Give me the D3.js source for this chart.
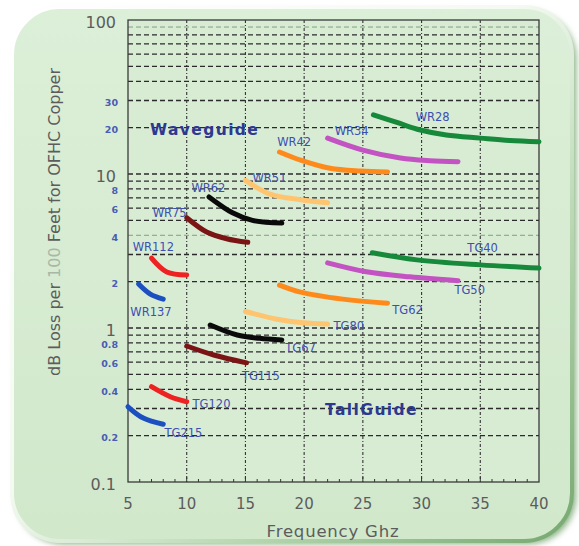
<!DOCTYPE html>
<html>
<head>
<meta charset="utf-8">
<script src="https://cdn.jsdelivr.net/npm/d3@7"></script>
<style>
  body { margin: 0; background: #fff; }
  svg { display: block; }
</style>
</head>
<body>
<div id="chart"></div>
<script>
// series (frequency GHz, dB loss / 100 ft)
const names = ["WR28", "WR34", "WR42", "WR51", "WR62", "WR75", "WR112", "WR137",
  "TG40", "TG50", "TG62", "TG80", "TG67", "TG115", "TG120", "TG215"]
const freqs = [
  [25.9, 27.9, 29.9, 32.1, 35.0, 37.5, 40.0],
  [22.0, 25.0, 28.2, 30.7, 33.1],
  [17.9, 19.7, 22.2, 24.8, 27.1],
  [15.0, 17.1, 19.7, 22.0],
  [11.9, 13.9, 15.6, 18.1],
  [10.0, 11.7, 13.4, 15.2],
  [7.0, 8.3, 10.0],
  [5.9, 6.9, 8.0],
  [25.8, 29.6, 35.0, 40.0],
  [22.0, 25.3, 29.0, 33.1],
  [17.9, 19.7, 23.3, 27.1],
  [15.0, 17.7, 19.9, 22.0],
  [12.0, 14.3, 16.2, 18.1],
  [10.0, 12.3, 15.1],
  [7.0, 8.6, 10.0],
  [5.0, 6.3, 8.0]
]
const losses = [
  [24.2, 21.6, 19.3, 17.9, 17.1, 16.5, 16.2],
  [17.1, 14.3, 12.7, 12.2, 12.0],
  [13.9, 12.3, 10.9, 10.45, 10.3],
  [9.1, 7.4, 6.8, 6.5],
  [7.1, 5.6, 5.0, 4.8],
  [5.2, 4.2, 3.8, 3.6],
  [2.84, 2.31, 2.21],
  [1.93, 1.66, 1.54],
  [3.08, 2.77, 2.57, 2.45],
  [2.65, 2.32, 2.15, 2.03],
  [1.90, 1.71, 1.54, 1.45],
  [1.28, 1.14, 1.08, 1.06],
  [1.045, 0.90, 0.857, 0.836],
  [0.764, 0.668, 0.594],
  [0.416, 0.358, 0.332],
  [0.308, 0.26, 0.237]
]
// where each name is written (freq, loss)
const labelFreq = [29.5, 22.6, 17.7, 15.6, 10.4, 7.1, 5.4, 5.2, 33.9, 32.8, 27.5, 22.5, 18.4, 14.7, 10.5, 8.1]
const labelLoss = [23.4, 19.0, 16.1, 9.4, 8.1, 5.6, 3.36, 1.27, 3.31, 1.77, 1.31, 1.03, 0.74, 0.488, 0.321, 0.208]

const xTicks = [5, 10, 15, 20, 25, 30, 35, 40]
const yMajor = [100, 10, 1, 0.1]
const yMinor = [30, 20, 8, 6, 4, 2, 0.8, 0.6, 0.4, 0.2]
const gridY = [80, 70, 60, 50, 40, 30, 20, 10, 9, 8, 7, 6, 5, 3, 2, 1, 0.9, 0.8, 0.7, 0.6, 0.5, 0.4, 0.3, 0.2]
const gridYFaint = [90, 4]

const colors = ["#16893a", "#c352c2", "#ff8a1c", "#ffc470", "#0a0a0a", "#7b1515", "#ee2222", "#1c4fc0"]

const W = 579, H = 546
const PLOT = { LEFT: 128, RIGHT: 539, TOP: 20, BOTTOM: 482 }

const svg = d3.select("#chart").append("svg")
  .attr("width", W)
  .attr("height", H)

const defs = svg.append("defs")
const grad = defs.append("linearGradient").attr("id", "panel")
  .attr("x1", 0).attr("y1", 0).attr("x2", 0).attr("y2", 1)
grad.append("stop").attr("offset", "0%").attr("stop-color", "#dcefd8")
grad.append("stop").attr("offset", "100%").attr("stop-color", "#d1e8cb")
const rim = defs.append("linearGradient").attr("id", "rim")
  .attr("x1", 0).attr("y1", 0).attr("x2", 1).attr("y2", 1)
rim.append("stop").attr("offset", "0%").attr("stop-color", "#ffffff")
rim.append("stop").attr("offset", "45%").attr("stop-color", "#f4faf2")
rim.append("stop").attr("offset", "70%").attr("stop-color", "#b9d8b3")
rim.append("stop").attr("offset", "100%").attr("stop-color", "#76a870")
defs.append("filter").attr("id", "blur")
  .append("feGaussianBlur").attr("stdDeviation", 3)

// panel
svg.append("rect")
  .attr("x", 16).attr("y", 11).attr("width", 560).attr("height", 533).attr("rx", 48)
  .attr("fill", "#86b080").attr("filter", "url(#blur)")
svg.append("rect")
  .attr("x", 12).attr("y", 7).attr("width", 560).attr("height", 534).attr("rx", 48)
  .attr("fill", "url(#panel)")
  .attr("stroke", "url(#rim)").attr("stroke-width", 4)

const x = d3.scaleLinear().domain([5, 40]).range([PLOT.LEFT, PLOT.RIGHT])
const y = d3.scaleLog().domain([0.1, 100]).range([PLOT.BOTTOM, PLOT.TOP])

const g = svg.append("g")

g.append("rect")
  .attr("x", PLOT.LEFT).attr("y", PLOT.TOP)
  .attr("width", PLOT.RIGHT - PLOT.LEFT).attr("height", PLOT.BOTTOM - PLOT.TOP)
  .attr("fill", "#d8ecd4")

// grid
g.selectAll(".gy").data(gridY).enter().append("line")
  .attr("x1", PLOT.LEFT).attr("x2", PLOT.RIGHT)
  .attr("y1", d => y(d)).attr("y2", d => y(d))
  .attr("stroke", "#2a2a2a").attr("stroke-width", 1.3)
  .attr("stroke-dasharray", "5,3")
g.selectAll(".gyf").data(gridYFaint).enter().append("line")
  .attr("x1", PLOT.LEFT).attr("x2", PLOT.RIGHT)
  .attr("y1", d => y(d)).attr("y2", d => y(d))
  .attr("stroke", "#6f8a6c").attr("stroke-width", 0.8)
  .attr("stroke-dasharray", "5,3")
g.selectAll(".gx").data(xTicks.slice(1, -1)).enter().append("line")
  .attr("x1", d => x(d)).attr("x2", d => x(d))
  .attr("y1", PLOT.TOP).attr("y2", PLOT.BOTTOM)
  .attr("stroke", "#333").attr("stroke-width", 1.1)
  .attr("stroke-dasharray", "3,2,1,2")

// minor ticks on the frequency axis
g.selectAll(".mt").data(d3.range(6, 40)).enter().append("line")
  .attr("x1", d => x(d)).attr("x2", d => x(d))
  .attr("y1", PLOT.BOTTOM).attr("y2", d => PLOT.BOTTOM - (d % 5 === 0 ? 5 : 3))
  .attr("stroke", "#333").attr("stroke-width", 1)

g.append("rect")
  .attr("x", PLOT.LEFT).attr("y", PLOT.TOP)
  .attr("width", PLOT.RIGHT - PLOT.LEFT).attr("height", PLOT.BOTTOM - PLOT.TOP)
  .attr("fill", "none").attr("stroke", "#3a3a3a").attr("stroke-width", 1.3)

// curves
const line = d3.line()
  .x(d => x(d[0]))
  .y(d => y(d[1]))
  .curve(d3.curveCatmullRom.alpha(0.5))

g.selectAll(".curve").data(names).enter().append("path")
  .attr("d", (d, i) => line(d3.zip(freqs[i], losses[i])))
  .attr("fill", "none")
  .attr("stroke", (d, i) => colors[i % 8])
  .attr("stroke-width", 5)
  .attr("stroke-linecap", "round")

g.selectAll(".name").data(names).enter().append("text")
  .attr("x", (d, i) => x(labelFreq[i]))
  .attr("y", (d, i) => y(labelLoss[i]))
  .attr("dy", "0.35em")
  .attr("font-family", "DejaVu Sans")
  .attr("font-size", 11.5)
  .attr("fill", "#3c4fb2")
  .text(d => d)

g.append("text")
  .attr("x", 150).attr("y", y(19.5)).attr("dy", "0.35em")
  .attr("font-family", "DejaVu Sans").attr("font-weight", "bold")
  .attr("font-size", 15.5).attr("letter-spacing", 1.4)
  .attr("fill", "#2c3892")
  .text("Waveguide")
g.append("text")
  .attr("x", 325).attr("y", y(0.295)).attr("dy", "0.35em")
  .attr("font-family", "DejaVu Sans").attr("font-weight", "bold")
  .attr("font-size", 15.5).attr("letter-spacing", 1.4)
  .attr("fill", "#2c3892")
  .text("TallGuide")

// axis labels
g.selectAll(".ymaj").data(yMajor).enter().append("text")
  .attr("x", 116).attr("y", d => y(d) + 2).attr("dy", "0.35em")
  .attr("text-anchor", "end")
  .attr("font-family", "DejaVu Sans").attr("font-size", 16)
  .attr("fill", "#5c5c5c")
  .text(d => d)
g.selectAll(".ymin").data(yMinor).enter().append("text")
  .attr("x", 118).attr("y", d => y(d) + 2).attr("dy", "0.35em")
  .attr("text-anchor", "end")
  .attr("font-family", "DejaVu Sans").attr("font-weight", "bold").attr("font-size", 9.5)
  .attr("fill", "#4a5cb4")
  .text(d => d)
g.selectAll(".xl").data(xTicks).enter().append("text")
  .attr("x", d => x(d)).attr("y", 504).attr("dy", "0.35em")
  .attr("text-anchor", "middle")
  .attr("font-family", "DejaVu Sans").attr("font-size", 15)
  .attr("fill", "#5c5c5c")
  .text(d => d)

g.append("text")
  .attr("x", 333).attr("y", 537)
  .attr("text-anchor", "middle")
  .attr("font-family", "DejaVu Sans").attr("font-size", 16.5).attr("letter-spacing", 0.8)
  .attr("fill", "#5c5c5c")
  .text("Frequency Ghz")

const yTitle = g.append("text")
  .attr("transform", "translate(60, 222) rotate(-90)")
  .attr("text-anchor", "middle")
  .attr("font-family", "DejaVu Sans").attr("font-size", 16)
  .attr("fill", "#5c5c5c")
yTitle.append("tspan").text("dB Loss per ")
yTitle.append("tspan").attr("fill", "#a8b8a6").text("100")
yTitle.append("tspan").text(" Feet for OFHC Copper")
</script>
</body>
</html>
